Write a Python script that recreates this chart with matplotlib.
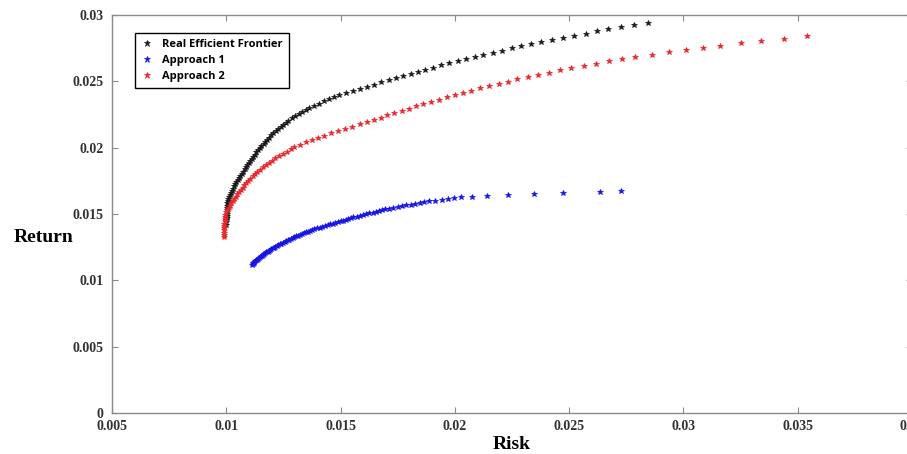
import numpy as np
import matplotlib
matplotlib.use("Agg")
import matplotlib.pyplot as plt

# values (risk on x, return on y)
black_ret = [0.01420, 0.01436, 0.01452, 0.01468, 0.01484, 0.01500, 0.01516, 0.01532, 0.01548, 0.01564,
             0.01580, 0.01596, 0.01612, 0.01628, 0.01644, 0.01660, 0.01676, 0.01692, 0.01708, 0.01724,
             0.01740, 0.01756, 0.01772, 0.01788, 0.01804, 0.01820, 0.01836, 0.01852, 0.01868, 0.01884,
             0.01900, 0.01916, 0.01932, 0.01948, 0.01964, 0.01980, 0.01996, 0.02012, 0.02028, 0.02044,
             0.02060, 0.02076, 0.02092, 0.02108, 0.02124, 0.02140, 0.02156, 0.02172, 0.02188, 0.02204,
             0.02220, 0.02236, 0.02252, 0.02268, 0.02284, 0.02300, 0.02316, 0.02332, 0.02348, 0.02364,
             0.02380, 0.02396, 0.02412, 0.02428, 0.02444, 0.02460, 0.02476, 0.02492, 0.02508, 0.02524,
             0.02540, 0.02556, 0.02572, 0.02588, 0.02604, 0.02620, 0.02636, 0.02652, 0.02668, 0.02684,
             0.02700, 0.02716, 0.02732, 0.02748, 0.02764, 0.02780, 0.02796, 0.02812, 0.02828, 0.02844,
             0.02860, 0.02876, 0.02892, 0.02908, 0.02924, 0.02940]
black_risk = [0.01000, 0.01000, 0.01000, 0.01001, 0.01001, 0.01001, 0.01002, 0.01003, 0.01003, 0.01004,
              0.01005, 0.01006, 0.01009, 0.01013, 0.01017, 0.01020, 0.01024, 0.01028, 0.01033, 0.01039,
              0.01044, 0.01050, 0.01056, 0.01062, 0.01068, 0.01074, 0.01080, 0.01086, 0.01092, 0.01098,
              0.01104, 0.01111, 0.01118, 0.01125, 0.01132, 0.01139, 0.01146, 0.01154, 0.01163, 0.01171,
              0.01179, 0.01188, 0.01196, 0.01205, 0.01216, 0.01227, 0.01238, 0.01249, 0.01260, 0.01272,
              0.01287, 0.01302, 0.01317, 0.01332, 0.01347, 0.01362, 0.01384, 0.01406, 0.01428, 0.01450,
              0.01472, 0.01494, 0.01523, 0.01555, 0.01586, 0.01617, 0.01648, 0.01679, 0.01711, 0.01743,
              0.01775, 0.01807, 0.01838, 0.01870, 0.01903, 0.01940, 0.01976, 0.02013, 0.02050, 0.02086,
              0.02123, 0.02165, 0.02207, 0.02249, 0.02291, 0.02333, 0.02375, 0.02423, 0.02473, 0.02522,
              0.02572, 0.02622, 0.02671, 0.02726, 0.02785, 0.02844]

blue_ret = [0.01115, 0.01121, 0.01127, 0.01133, 0.01139, 0.01145, 0.01151, 0.01157, 0.01163, 0.01169,
            0.01175, 0.01181, 0.01187, 0.01193, 0.01199, 0.01205, 0.01211, 0.01217, 0.01223, 0.01229,
            0.01235, 0.01241, 0.01247, 0.01253, 0.01259, 0.01265, 0.01271, 0.01277, 0.01283, 0.01289,
            0.01295, 0.01301, 0.01307, 0.01313, 0.01319, 0.01325, 0.01331, 0.01337, 0.01343, 0.01349,
            0.01355, 0.01361, 0.01367, 0.01373, 0.01379, 0.01385, 0.01391, 0.01397, 0.01403, 0.01409,
            0.01415, 0.01421, 0.01427, 0.01433, 0.01439, 0.01445, 0.01451, 0.01457, 0.01463, 0.01469,
            0.01475, 0.01481, 0.01487, 0.01493, 0.01499, 0.01505, 0.01511, 0.01517, 0.01523, 0.01529,
            0.01535, 0.01541, 0.01547, 0.01553, 0.01559, 0.01565, 0.01571, 0.01577, 0.01583, 0.01589,
            0.01595, 0.01601, 0.01607, 0.01613, 0.01619, 0.01625,
            0.01630, 0.01636, 0.01642, 0.01649, 0.01656, 0.01664, 0.01671]
blue_risk = [0.01112, 0.01115, 0.01118, 0.01120, 0.01123, 0.01126, 0.01130, 0.01134, 0.01138, 0.01142,
             0.01146, 0.01151, 0.01156, 0.01160, 0.01165, 0.01170, 0.01175, 0.01181, 0.01186, 0.01192,
             0.01197, 0.01203, 0.01209, 0.01215, 0.01221, 0.01227, 0.01234, 0.01241, 0.01248, 0.01255,
             0.01262, 0.01269, 0.01276, 0.01284, 0.01291, 0.01298, 0.01306, 0.01314, 0.01322, 0.01330,
             0.01338, 0.01347, 0.01357, 0.01366, 0.01376, 0.01385, 0.01397, 0.01408, 0.01420, 0.01431,
             0.01443, 0.01454, 0.01466, 0.01477, 0.01489, 0.01500, 0.01511, 0.01522, 0.01534, 0.01545,
             0.01556, 0.01570, 0.01584, 0.01598, 0.01612, 0.01626, 0.01640, 0.01653, 0.01667, 0.01680,
             0.01694, 0.01713, 0.01731, 0.01750, 0.01768, 0.01787, 0.01807, 0.01827, 0.01846, 0.01866,
             0.01886, 0.01914, 0.01942, 0.01969, 0.01997, 0.02025,
             0.02075, 0.02140, 0.02232, 0.02346, 0.02473, 0.02635, 0.02726]

red_ret = [0.01325, 0.01342, 0.01359, 0.01376, 0.01393, 0.01410, 0.01427, 0.01444, 0.01461, 0.01478,
           0.01495, 0.01512, 0.01529, 0.01546, 0.01563, 0.01580, 0.01597, 0.01614, 0.01631, 0.01648,
           0.01665, 0.01682, 0.01699, 0.01716, 0.01733, 0.01750, 0.01767, 0.01784, 0.01801, 0.01818,
           0.01835, 0.01852, 0.01869, 0.01886, 0.01903, 0.01920, 0.01937, 0.01954, 0.01971, 0.01988,
           0.02005, 0.02022, 0.02039, 0.02056, 0.02073, 0.02090, 0.02107, 0.02124, 0.02141, 0.02158,
           0.02175, 0.02192, 0.02209, 0.02226, 0.02243, 0.02260, 0.02277, 0.02294, 0.02311, 0.02328,
           0.02345, 0.02362, 0.02379, 0.02396, 0.02413, 0.02430, 0.02447, 0.02464, 0.02481, 0.02498,
           0.02515, 0.02532, 0.02549, 0.02566, 0.02583, 0.02600, 0.02617, 0.02634, 0.02651, 0.02668,
           0.02685, 0.02702, 0.02719, 0.02736, 0.02753, 0.02770, 0.02787, 0.02804, 0.02821, 0.02838]
red_risk = [0.00990, 0.00990, 0.00990, 0.00990, 0.00991, 0.00991, 0.00992, 0.00993, 0.00994, 0.00995,
            0.00996, 0.01000, 0.01005, 0.01010, 0.01016, 0.01022, 0.01028, 0.01035, 0.01041, 0.01048,
            0.01055, 0.01063, 0.01071, 0.01079, 0.01087, 0.01096, 0.01105, 0.01115, 0.01125, 0.01135,
            0.01146, 0.01159, 0.01173, 0.01186, 0.01200, 0.01213, 0.01230, 0.01247, 0.01264, 0.01281,
            0.01298, 0.01322, 0.01347, 0.01373, 0.01400, 0.01428, 0.01458, 0.01488, 0.01519, 0.01551,
            0.01583, 0.01614, 0.01645, 0.01675, 0.01705, 0.01735, 0.01767, 0.01799, 0.01830, 0.01862,
            0.01894, 0.01929, 0.01964, 0.02000, 0.02035, 0.02070, 0.02110, 0.02150, 0.02191, 0.02231,
            0.02271, 0.02318, 0.02365, 0.02412, 0.02459, 0.02506, 0.02563, 0.02619, 0.02676, 0.02732,
            0.02789, 0.02863, 0.02938, 0.03012, 0.03087, 0.03161, 0.03250, 0.03339, 0.03440, 0.03540]

series_names = ["Real Efficient Frontier", "Approach 1", "Approach 2"]
x_ticks = [0.005, 0.01, 0.015, 0.02, 0.025, 0.03, 0.035, 0.04]
x_tick_labels = ["0.005", "0.01", "0.015", "0.02", "0.025", "0.03", "0.035", "0.04"]
y_ticks = [0, 0.005, 0.01, 0.015, 0.02, 0.025, 0.03]
y_tick_labels = ["0", "0.005", "0.01", "0.015", "0.02", "0.025", "0.03"]

fig = plt.figure(figsize=(9.07, 4.54), dpi=100)
# axes runs slightly past the right edge, like the cropped original
ax = fig.add_axes([112 / 907, 41 / 454, 800 / 907, 398 / 454])

mk = dict(linestyle="none", marker="*", markersize=3.8, markeredgewidth=0.5)
ax.plot(black_risk, black_ret, color="#1a1a1a", label=series_names[0], **mk)
ax.plot(blue_risk, blue_ret, color="#1515e6", label=series_names[1], **mk)
ax.plot(red_risk, red_ret, color="#e8282e", label=series_names[2], **mk)

ax.set_xlim(0.005, 0.04)
ax.set_ylim(0, 0.03)
ax.set_xticks(x_ticks)
ax.set_xticklabels(x_tick_labels)
ax.set_yticks(y_ticks)
ax.set_yticklabels(y_tick_labels)

for s in ax.spines.values():
    s.set_color("#8a8a8a")
    s.set_linewidth(1.0)
ax.tick_params(direction="in", length=4, width=0.8, color="#8a8a8a",
               top=True, right=True, labelsize=10, labelcolor="#333333")
ax.tick_params(axis="x", pad=5)
ax.tick_params(axis="y", pad=6)
for lab in ax.get_xticklabels() + ax.get_yticklabels():
    lab.set_family("Liberation Serif")
    lab.set_fontweight("bold")

ax.set_xlabel("Risk", family="Liberation Serif", fontweight="bold", fontsize=14, labelpad=2)
ax.set_ylabel("Return", family="Liberation Serif", fontweight="bold", fontsize=14,
              rotation=0, labelpad=0)
ax.yaxis.set_label_coords(-0.085, 0.42)

leg = ax.legend(loc="upper left", bbox_to_anchor=(135 / 907, 1 - 33 / 454),
                bbox_transform=fig.transFigure, borderaxespad=0,
                prop={"family": "Open Sans", "weight": "bold", "size": 8},
                fancybox=False, framealpha=1, edgecolor="black",
                handlelength=1.0, handletextpad=0.9, borderpad=0.55, labelspacing=0.45,
                markerscale=1.3)
leg.get_frame().set_linewidth(1.0)

fig.savefig("out.png", dpi=100)
